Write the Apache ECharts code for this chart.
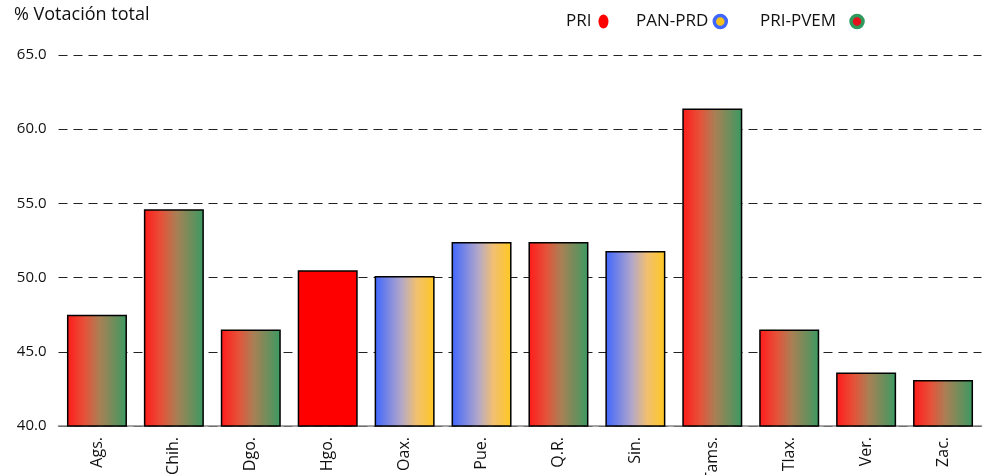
<!DOCTYPE html>
<html><head><meta charset="utf-8">
<script src="https://cdn.jsdelivr.net/npm/echarts@6/dist/echarts.min.js"></script>
<style>html,body{margin:0;padding:0;background:#fff}#c{width:985px;height:475px}</style>
</head><body><div id="c"></div>
<script>
const categories = ['Ags.','Chih.','Dgo.','Hgo.','Oax.','Pue.','Q.R.','Sin.','Tams.','Tlax.','Ver.','Zac.'];
const priValues     = [null, null, null, 50.5, null, null, null, null, null, null, null, null];
const panPrdValues  = [null, null, null, null, 50.1, 52.4, null, 51.8, null, null, null, null];
const priPvemValues = [47.5, 54.6, 46.5, null, null, null, 52.4, null, 61.4, 46.5, 43.6, 43.1];
const yTicks = [40, 45, 50, 55, 60, 65];

const redGreen = new echarts.graphic.LinearGradient(0,0,1,0,[{offset:0,color:'#ff1a1a'},{offset:0.3,color:'#e5533a'},{offset:0.55,color:'#a88055'},{offset:1,color:'#3a9a62'}]);
const blueYellow = new echarts.graphic.LinearGradient(0,0,1,0,[{offset:0,color:'#3f66ff'},{offset:0.45,color:'#b4a8c8'},{offset:0.7,color:'#f2c070'},{offset:1,color:'#ffc820'}]);

const chart = echarts.init(document.getElementById('c'), null, {renderer:'canvas'});
const barCommon = {type:'bar', barWidth:'78%', barGap:'-100%'};
const mkLegend = (name, left, icon, style, w, h, pad) => ({
  top:8, left:left, align:'right', itemWidth:w, itemHeight:h, itemGap:0,
  textStyle:{fontFamily:'Open Sans', fontSize:17, color:'#111', padding:[0,pad,0,0]},
  data:[{name:name, icon:icon, itemStyle:style}]
});
chart.setOption({
  animation:false,
  grid:{left:58.5, right:3.5, top:55, bottom:49, containLabel:false, outerBoundsMode:'none'},
  legend:[
    mkLegend('PRI', 561, 'path://M5,0 A5,7 0 1,1 5,14 A5,7 0 1,1 5,0 Z', {color:'#ff0000', borderWidth:0}, 10, 14, 2),
    mkLegend('PAN-PRD', 631, 'circle', {color:'#f5c21b', borderColor:'#3f66ff', borderWidth:3.5}, 12, 12, 1),
    mkLegend('PRI-PVEM', 755, 'circle', {color:'#e8101a', borderColor:'#2e9a5e', borderWidth:3.5}, 12, 12, 10)
  ],
  graphic:[{type:'text', left:14, top:6, style:{text:'% Votación total', font:'18px "Open Sans"', fill:'#111'}}],
  xAxis:{
    type:'category', data:categories,
    axisLine:{show:true, lineStyle:{color:'#888', width:1.5}},
    axisTick:{show:false},
    axisLabel:{rotate:90, fontFamily:'Open Sans', fontSize:16, color:'#111', margin:11}
  },
  yAxis:{
    type:'value', min:yTicks[0], max:yTicks[yTicks.length-1], interval:5,
    axisLine:{show:false}, axisTick:{show:false},
    axisLabel:{fontFamily:'Open Sans', fontSize:15, color:'#111', margin:12, formatter:v=>v.toFixed(1)},
    splitLine:{show:true, lineStyle:{color:'#222', type:[9,6], width:1}}
  },
  series:[
    Object.assign({}, barCommon, {name:'PRI', data:priValues, itemStyle:{color:'#ff0000', borderColor:'#000', borderWidth:1.5}}),
    Object.assign({}, barCommon, {name:'PAN-PRD', data:panPrdValues, itemStyle:{color:blueYellow, borderColor:'#000', borderWidth:1.5}}),
    Object.assign({}, barCommon, {name:'PRI-PVEM', data:priPvemValues, itemStyle:{color:redGreen, borderColor:'#000', borderWidth:1.5}})
  ]
});
</script></body></html>
